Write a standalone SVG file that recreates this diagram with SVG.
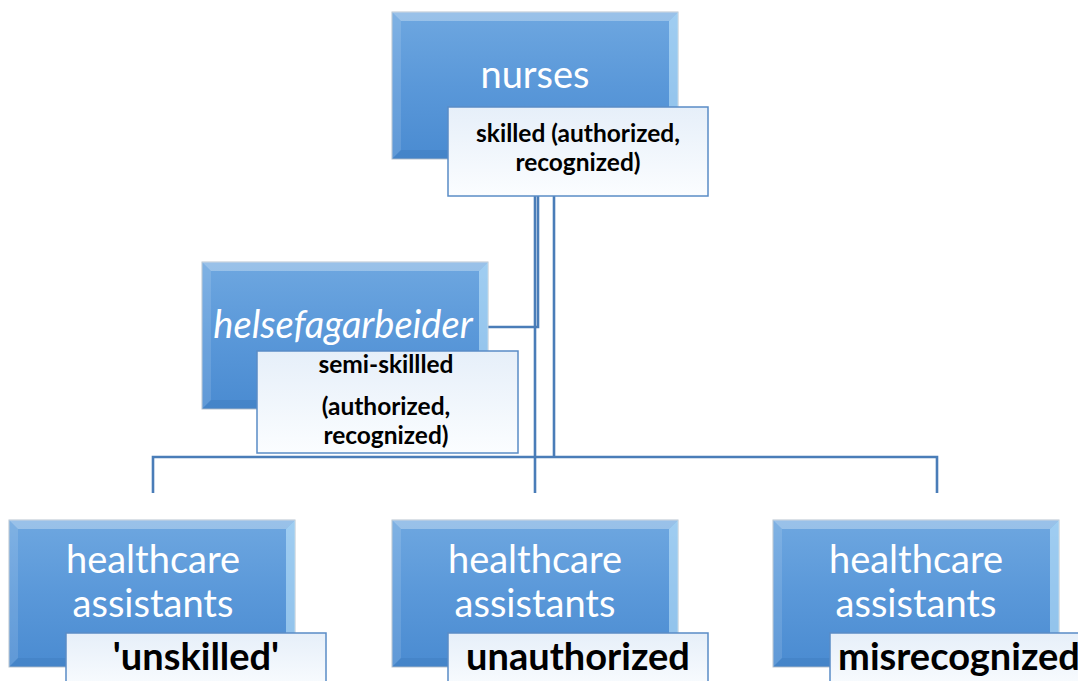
<svg xmlns="http://www.w3.org/2000/svg" xmlns:xlink="http://www.w3.org/1999/xlink" width="1078" height="681" viewBox="0 0 1078 681">
<style>
.ln{fill:none;stroke:#4a7db8;stroke-width:2.6;stroke-linecap:butt}
.main{font-family:Lato,"Open Sans",sans-serif;font-size:38px;fill:#ffffff;text-anchor:middle}
.lbl{fill:url(#lblg);stroke:#5a8cc6;stroke-width:1.5}
.sub{font-family:Lato,"Open Sans",sans-serif;font-weight:bold;font-size:24.5px;fill:#000;text-anchor:middle}
.big{font-family:Lato,"Open Sans",sans-serif;font-weight:bold;font-size:38px;fill:#000;text-anchor:middle}
</style>
<defs>
<linearGradient id="body" x1="0" y1="0" x2="0" y2="1">
<stop offset="0" stop-color="#6ea7e0"/>
<stop offset="0.5" stop-color="#5a98d9"/>
<stop offset="1" stop-color="#4a8bd1"/>
</linearGradient>
<linearGradient id="lblg" x1="0" y1="0" x2="0" y2="1">
<stop offset="0" stop-color="#e6eff9"/>
<stop offset="1" stop-color="#fbfdff"/>
</linearGradient>
<g id="box">
<rect x="0" y="0" width="286" height="147" fill="url(#body)" stroke="#b7c3cf" stroke-width="1"/>
<polygon points="0,0 286,0 277,9 9,9" fill="#ffffff" opacity="0.3"/>
<polygon points="0,0 9,9 9,138 0,147" fill="#ffffff" opacity="0.12"/>
<polygon points="286,0 286,147 277,138 277,9" fill="#c8ecff" opacity="0.55"/>
<polygon points="0,147 9,138 277,138 286,147" fill="#1f4f8a" opacity="0.12"/>
</g>
</defs>
<g id="connectors">
<path class="ln" d="M538,196 V327 H487"/>
<path class="ln" d="M535,196 V493"/>
<path class="ln" d="M554,196 V457"/>
<path class="ln" d="M153,493 V457 H937 V493"/>
</g>
<g id="nurses">
<use xlink:href="#box" x="392" y="12"/>
<text class="main" x="535" y="88">nurses</text>
<rect class="lbl" x="448" y="107" width="260" height="89"/>
<text class="sub" x="578" y="142">skilled (authorized,</text>
<text class="sub" x="578" y="171">recognized)</text>
</g>
<g id="helsefagarbeider">
<use xlink:href="#box" x="202" y="262"/>
<text class="main" x="343" y="338" font-style="italic" font-size="39.5">helsefagarbeider</text>
<rect class="lbl" x="257" y="351" width="261" height="102"/>
<text class="sub" x="386" y="373">semi-skillled</text>
<text class="sub" x="386" y="415">(authorized,</text>
<text class="sub" x="386" y="444">recognized)</text>
</g>
<g id="hca1">
<use xlink:href="#box" x="9" y="520"/>
<text class="main" x="153" y="573">healthcare</text>
<text class="main" x="153" y="617">assistants</text>
<rect class="lbl" x="66" y="633" width="260" height="60"/>
<text class="big" x="196" y="670">'unskilled'</text>
</g>
<g id="hca2">
<use xlink:href="#box" x="392" y="520"/>
<text class="main" x="535" y="573">healthcare</text>
<text class="main" x="535" y="617">assistants</text>
<rect class="lbl" x="448" y="633" width="260" height="60"/>
<text class="big" x="578" y="670">unauthorized</text>
</g>
<g id="hca3">
<use xlink:href="#box" x="773" y="520"/>
<text class="main" x="916" y="573">healthcare</text>
<text class="main" x="916" y="617">assistants</text>
<rect class="lbl" x="830" y="633" width="260" height="60"/>
<text class="big" x="959" y="670">misrecognized</text>
</g>
</svg>
